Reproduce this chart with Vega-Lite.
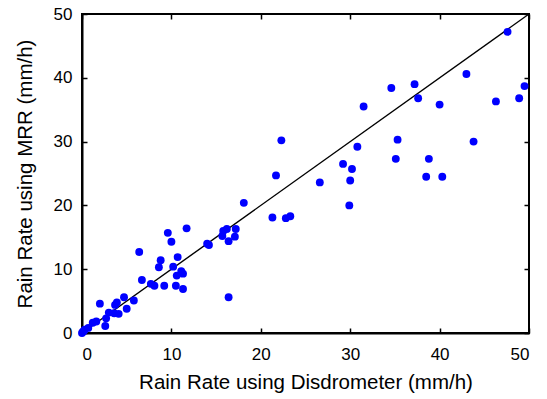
{
  "$schema": "https://vega.github.io/schema/vega-lite/v6.json",
  "width": 447,
  "height": 319,
  "autosize": "none",
  "padding": {"left": 82, "top": 14, "right": 18, "bottom": 66},
  "background": "white",
  "config": {
    "font": "Liberation Sans",
    "view": {"stroke": "black", "strokeWidth": 2},
    "axis": {
      "grid": false,
      "domainColor": "black",
      "domainWidth": 2,
      "tickColor": "black",
      "tickWidth": 1.5,
      "tickSize": -5,
      "labelFont": "Liberation Sans",
      "labelFontSize": 17,
      "labelColor": "black",
      "titleFont": "Liberation Sans",
      "titleFontSize": 20.5,
      "titleFontWeight": "normal",
      "titleColor": "black"
    }
  },
  "datasets": {
    "pts": [
      {"d": 0.0, "m": 0.0}, {"d": 0.1, "m": 0.2}, {"d": 0.2, "m": 0.3}, {"d": 0.3, "m": 0.5},
      {"d": 0.7, "m": 0.8}, {"d": 1.2, "m": 1.6}, {"d": 1.6, "m": 1.8}, {"d": 2.6, "m": 1.1},
      {"d": 2.7, "m": 2.3}, {"d": 2.0, "m": 4.6}, {"d": 3.0, "m": 3.2}, {"d": 3.6, "m": 3.1},
      {"d": 4.1, "m": 3.0}, {"d": 3.7, "m": 4.4}, {"d": 3.9, "m": 4.8}, {"d": 4.7, "m": 5.6},
      {"d": 5.0, "m": 3.8}, {"d": 5.8, "m": 5.1}, {"d": 6.7, "m": 8.3}, {"d": 7.7, "m": 7.7},
      {"d": 8.1, "m": 7.4}, {"d": 9.2, "m": 7.4}, {"d": 10.5, "m": 7.4}, {"d": 11.3, "m": 6.9},
      {"d": 10.6, "m": 9.0}, {"d": 11.1, "m": 9.7}, {"d": 11.3, "m": 9.3}, {"d": 8.6, "m": 10.3},
      {"d": 10.2, "m": 10.4}, {"d": 8.8, "m": 11.4}, {"d": 10.7, "m": 11.9}, {"d": 6.4, "m": 12.7},
      {"d": 9.6, "m": 15.7}, {"d": 10.0, "m": 14.3}, {"d": 11.7, "m": 16.4}, {"d": 14.0, "m": 14.0},
      {"d": 14.2, "m": 13.8}, {"d": 15.7, "m": 15.2}, {"d": 15.8, "m": 16.0}, {"d": 16.2, "m": 16.3},
      {"d": 17.2, "m": 16.3}, {"d": 17.1, "m": 15.1}, {"d": 16.4, "m": 14.4}, {"d": 16.4, "m": 5.6},
      {"d": 18.1, "m": 20.4}, {"d": 21.3, "m": 18.1}, {"d": 22.8, "m": 18.0}, {"d": 23.3, "m": 18.3},
      {"d": 21.7, "m": 24.7}, {"d": 22.3, "m": 30.2}, {"d": 26.6, "m": 23.6}, {"d": 29.9, "m": 20.0},
      {"d": 30.0, "m": 23.9}, {"d": 30.2, "m": 25.7}, {"d": 29.2, "m": 26.5}, {"d": 30.8, "m": 29.2},
      {"d": 31.5, "m": 35.5}, {"d": 34.6, "m": 38.4}, {"d": 37.2, "m": 39.0}, {"d": 37.6, "m": 36.8},
      {"d": 35.3, "m": 30.3}, {"d": 35.1, "m": 27.3}, {"d": 38.8, "m": 27.3}, {"d": 38.5, "m": 24.5},
      {"d": 40.3, "m": 24.5}, {"d": 40.0, "m": 35.8}, {"d": 43.8, "m": 30.0}, {"d": 43.0, "m": 40.6},
      {"d": 46.3, "m": 36.3}, {"d": 48.9, "m": 36.8}, {"d": 49.5, "m": 38.7}, {"d": 47.6, "m": 47.2}
    ],
    "line": [{"d": 0, "m": 0}, {"d": 50, "m": 50}]
  },
  "layer": [
    {
      "data": {"name": "line"},
      "mark": {"type": "line", "color": "black", "strokeWidth": 1.4},
      "encoding": {
        "x": {"field": "d", "type": "quantitative", "scale": {"domain": [0, 50], "nice": false},
              "axis": {"orient": "top", "labels": false, "title": null, "values": [0, 10, 20, 30, 40, 50], "domain": false}},
        "y": {"field": "m", "type": "quantitative", "scale": {"domain": [0, 50], "nice": false},
              "axis": {"orient": "right", "labels": false, "title": null, "values": [0, 10, 20, 30, 40, 50], "domain": false}}
      }
    },
    {
      "data": {"name": "pts"},
      "mark": {"type": "circle", "color": "#0000ff", "opacity": 1, "size": 62},
      "encoding": {
        "x": {"field": "d", "type": "quantitative", "scale": {"domain": [0, 50], "nice": false},
              "axis": {"orient": "bottom", "title": "Rain Rate using Disdrometer (mm/h)", "values": [0, 10, 20, 30, 40, 50], "labelPadding": 18, "titlePadding": 10}},
        "y": {"field": "m", "type": "quantitative", "scale": {"domain": [0, 50], "nice": false},
              "axis": {"orient": "left", "title": "Rain Rate using MRR (mm/h)", "values": [0, 10, 20, 30, 40, 50], "labelPadding": 15, "titlePadding": 18}}
      }
    }
  ],
  "resolve": {"axis": {"x": "independent", "y": "independent"}}
}
